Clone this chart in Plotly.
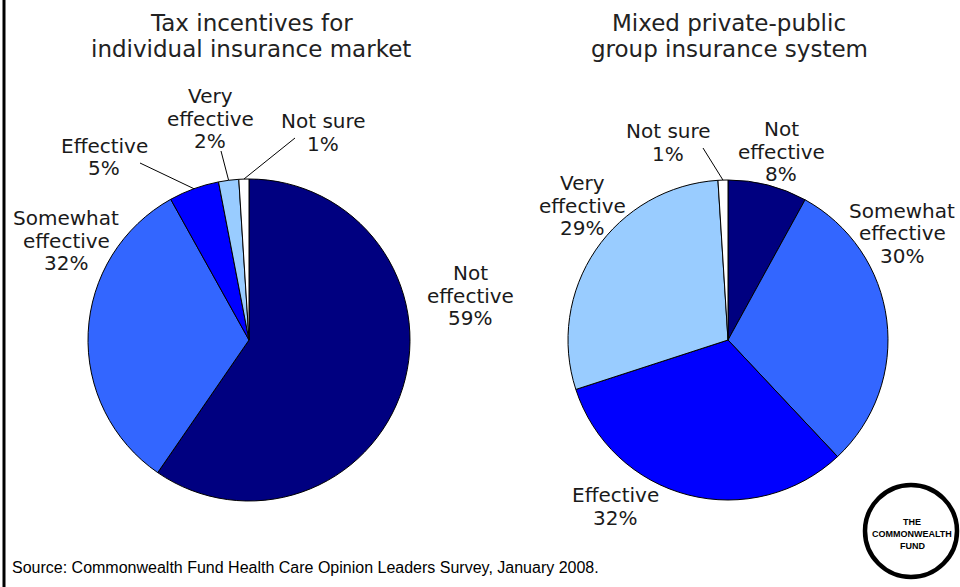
import math
import plotly.graph_objects as go

W, H = 960, 587

# Survey answers, in clockwise order from 12 o'clock
categories = ["Not effective", "Somewhat effective", "Effective", "Very effective", "Not sure"]
label_lines = [["Not", "effective"], ["Somewhat", "effective"], ["Effective"],
               ["Very", "effective"], ["Not sure"]]
tax_values = [59, 32, 5, 2, 1]
mixed_values = [8, 30, 32, 29, 1]
colors = ["#000080", "#3366FF", "#0000FF", "#99CCFF", "#FFFFFF"]

left_title = ["Tax incentives for", "individual insurance market"]
right_title = ["Mixed private-public", "group insurance system"]
source_text = "Source: Commonwealth Fund Health Care Opinion Leaders Survey, January 2008."
logo_lines = ["THE", "COMMONWEALTH", "FUND"]

# pie geometry in pixels: centre x, centre y, radius
LEFT = (249, 340, 161)
RIGHT = (728, 340, 160)

LABEL_FONT = dict(family="DejaVu Sans", size=20, color="#1a1a1a")
TITLE_FONT = dict(family="DejaVu Sans", size=23, color="#222222")
LOGO_FONT = dict(family="Liberation Sans", size=9, color="#000000")


def domain(c):
    cx, cy, r = c
    return dict(x=[(cx - r) / W, (cx + r) / W],
                y=[(H - cy - r) / H, (H - cy + r) / H])


def px(x, y):
    return x / W, 1 - y / H


def edge_point(c, values, idx):
    """Point on the rim at the middle of slice idx (clockwise from top)."""
    cx, cy, r = c
    total = sum(values)
    mid = (sum(values[:idx]) + values[idx] / 2) / total
    a = 2 * math.pi * mid
    return cx + r * math.sin(a), cy - r * math.cos(a)


fig = go.Figure()
for vals, c in ((tax_values, LEFT), (mixed_values, RIGHT)):
    fig.add_trace(go.Pie(
        labels=categories, values=vals, sort=False, direction="clockwise",
        rotation=0, textinfo="none", hoverinfo="label+percent",
        marker=dict(colors=colors, line=dict(color="#000000", width=1)),
        domain=domain(c), showlegend=False,
    ))

annotations = []
shapes = []


def text_block(lines, x, y_first, step, font, bold=False):
    """Stack centred lines, one annotation per line for tight spacing."""
    for k, line in enumerate(lines):
        xp, yp = px(x, y_first + k * step)
        annotations.append(dict(text=f"<b>{line}</b>" if bold else line,
                                x=xp, y=yp, xref="paper", yref="paper",
                                showarrow=False, font=font,
                                xanchor="center", yanchor="middle"))


# titles
text_block(left_title, 251, 23, 26, TITLE_FONT)
text_block(right_title, 729, 23, 26, TITLE_FONT)

# label anchor: centre x, first-line centre y
left_pos = [(470, 273), (66, 218), (104, 146), (210, 96), (323, 121)]
right_pos = [(781, 129), (902, 211), (615, 495), (582, 183), (668, 131)]

for vals, pos in ((tax_values, left_pos), (mixed_values, right_pos)):
    for i, v in enumerate(vals):
        text_block(label_lines[i] + [f"{v}%"], pos[i][0], pos[i][1], 22.5, LABEL_FONT)


def leader(c, values, idx, end):
    x0, y0 = edge_point(c, values, idx)
    a = px(x0, y0)
    b = px(*end)
    shapes.append(dict(type="line", xref="paper", yref="paper",
                       x0=a[0], y0=a[1], x1=b[0], y1=b[1],
                       line=dict(color="#000000", width=1)))


leader(LEFT, tax_values, 2, (140, 163))
leader(LEFT, tax_values, 3, (221, 151))
leader(LEFT, tax_values, 4, (295, 138))
leader(RIGHT, mixed_values, 4, (703, 148))

# frame line along the left edge
shapes.append(dict(type="line", xref="paper", yref="paper",
                   x0=4 / W, x1=4 / W, y0=0, y1=1,
                   line=dict(color="#000000", width=3)))

# logo badge
lx, ly, lr = 911, 531, 46
x0, y1 = px(lx - lr, ly - lr)
x1, y0 = px(lx + lr, ly + lr)
shapes.append(dict(type="circle", xref="paper", yref="paper",
                   x0=x0, x1=x1, y0=y0, y1=y1,
                   fillcolor="#FFFFFF", line=dict(color="#000000", width=4.5)))
text_block(logo_lines, lx + 1, 522, 12, LOGO_FONT, bold=True)

# source note
sx, sy = px(10, 567)
annotations.append(dict(text=source_text, x=sx, y=sy, xref="paper", yref="paper",
                        showarrow=False, xanchor="left", yanchor="middle",
                        font=dict(family="Liberation Sans", size=16, color="#000000")))

fig.update_layout(
    width=W, height=H, margin=dict(l=0, r=0, t=0, b=0),
    paper_bgcolor="#FFFFFF", plot_bgcolor="#FFFFFF",
    annotations=annotations, shapes=shapes,
)

fig.write_html("out.html")
